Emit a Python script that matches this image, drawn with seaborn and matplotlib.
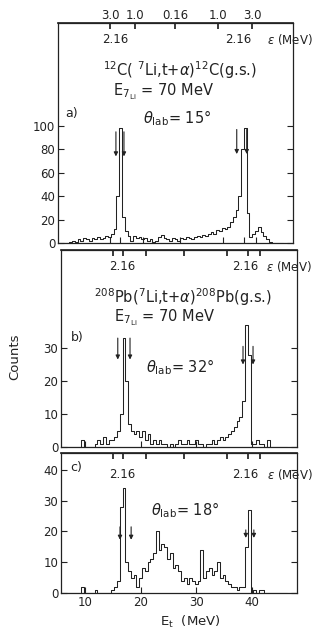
import numpy as np
import pandas as pd
import matplotlib
matplotlib.use('Agg')
import matplotlib.pyplot as plt
import seaborn as sns

sns.set_theme(style='ticks')
plt.rcParams['font.family'] = ['DejaVu Sans']
plt.rcParams['mathtext.fontset'] = 'dejavusans'

# triton energy channels, 0.5 MeV wide, centres 6.0 ... 46.0 MeV
e_first, e_last, e_width = 6.0, 46.0, 0.5

# a) 12C(7Li,t+a)12C(g.s.), theta_lab = 15 deg
counts_a = [0, 0, 0, 0, 1, 2, 1, 3, 2, 4,
            3, 2, 4, 3, 5, 3, 4, 6, 5, 8,
            12, 40, 98, 22, 10, 6, 2, 6, 4, 5,
            3, 4, 2, 3, 1, 2, 5, 7, 4, 3,
            2, 4, 3, 2, 4, 3, 5, 4, 3, 5,
            6, 5, 7, 6, 8, 9, 8, 11, 10, 13,
            12, 14, 18, 22, 28, 40, 80, 98, 26, 5,
            8, 10, 14, 9, 6, 3, 1, 0, 0, 0,
            0]
# b) 208Pb(7Li,t+a)208Pb(g.s.), theta_lab = 32 deg
counts_b = [0, 0, 0, 0, 0, 0, 0, 2, 0, 0,
            0, 0, 1, 2, 1, 3, 1, 2, 2, 3,
            5, 10, 33, 20, 7, 5, 4, 5, 3, 5,
            2, 4, 1, 2, 1, 2, 1, 1, 0, 1,
            0, 1, 2, 1, 1, 2, 1, 1, 2, 1,
            1, 0, 1, 1, 2, 1, 2, 3, 2, 3,
            4, 5, 6, 8, 9, 14, 37, 28, 1, 1,
            2, 1, 1, 0, 2, 0, 0, 0, 0, 0,
            0]
# c) 208Pb target, theta_lab = 18 deg
counts_c = [0, 0, 0, 0, 0, 0, 0, 2, 0, 0,
            0, 0, 1, 0, 0, 0, 0, 0, 1, 2,
            4, 28, 34, 10, 7, 5, 6, 2, 5, 8,
            7, 10, 11, 13, 20, 14, 16, 15, 11, 13,
            8, 9, 7, 4, 5, 3, 5, 4, 3, 4,
            14, 5, 7, 8, 6, 7, 10, 5, 6, 4,
            3, 2, 2, 1, 2, 2, 15, 27, 0, 1,
            0, 1, 1, 0, 0, 0, 0, 0, 0, 0,
            0]

# relative t-alpha energy scale (top axis)
eps_pos_a = [15.1, 19.6, 26.8, 34.6, 40.7]
eps_labels_a = ['3.0', '1.0', '0.16', '1.0', '3.0']
eps_pos_bc = [15.0, 16.8, 21.0, 27.8, 35.5, 39.3, 41.4]

# arrows marking the 2.16 MeV window: (E_t, count at tail, count at head)
arrows_a = [(16.15, 95, 74), (17.6, 95, 74), (37.95, 97, 76), (39.75, 97, 76)]
arrows_b = [(15.9, 33, 26.5), (18.1, 33, 26.5), (38.4, 30.5, 25), (40.2, 30.5, 25)]
arrows_c = [(16.3, 21.5, 17.3), (18.3, 21.5, 17.3), (38.9, 20.5, 17.9), (40.35, 20.5, 17.9)]

e_centers = np.arange(e_first, e_last + e_width / 2, e_width)
edges = list(np.append(e_centers - e_width / 2, e_centers[-1] + e_width / 2))
df = pd.DataFrame({'E': e_centers, 'a': counts_a, 'b': counts_b, 'c': counts_c})

fig = plt.figure(figsize=(3.2, 6.3), dpi=100)
ax_a = fig.add_axes([58 / 320, 1 - 243 / 630, 235 / 320, 220 / 630])
ax_b = fig.add_axes([61 / 320, 1 - 447 / 630, 236 / 320, 197 / 630])
ax_c = fig.add_axes([61 / 320, 1 - 593 / 630, 236 / 320, 140 / 630])

panels = [(ax_a, 'a', 188, [0, 20, 40, 60, 80, 100], arrows_a),
          (ax_b, 'b', 59.7, [0, 10, 20, 30], arrows_b),
          (ax_c, 'c', 45.5, [0, 10, 20, 30, 40], arrows_c)]

for ax, col, ytop, yt, arr in panels:
    sns.histplot(data=df, x='E', weights=col, bins=edges, element='step',
                 fill=False, color='#222222', linewidth=0.75, ax=ax)
    ax.set_xlim(5.7, 48.1)
    ax.set_ylim(0, ytop)
    ax.set_yticks(yt)
    ax.set_xlabel('')
    ax.set_ylabel('')
    ax.tick_params(direction='in', length=4, width=0.8, labelsize=8.5,
                   right=True, pad=2, colors='#222222')
    for s in ax.spines.values():
        s.set_linewidth(0.9)
        s.set_color('#222222')
    for x, y0, y1 in arr:
        ax.annotate('', xy=(x, y1), xytext=(x, y0),
                    arrowprops=dict(arrowstyle='-|>', color='#222222', lw=0.8,
                                    mutation_scale=6, shrinkA=0, shrinkB=0))

ax_a.set_xticks(eps_pos_bc)
ax_a.tick_params(labelbottom=False)
ax_b.set_xticks([10, 20, 30, 40])
ax_b.tick_params(labelbottom=False)
ax_c.set_xticks([10, 20, 30, 40])

top_a = ax_a.secondary_xaxis('top')
top_a.set_xticks(eps_pos_a, eps_labels_a)
top_a.tick_params(direction='in', length=4, labelsize=8.5, pad=1, colors='#222222')
for ax in (ax_b, ax_c):
    t = ax.secondary_xaxis('top')
    t.set_xticks(eps_pos_bc)
    t.tick_params(direction='in', length=4, labeltop=False, colors='#222222')

fs_big = 10.5


def put(ax, x, y, s, size=fs_big, ha='center'):
    ax.text(x, y, s, transform=ax.transAxes, ha=ha, va='center',
            fontsize=size, color='#222222')


# panel a
put(ax_a, 0.243, 0.923, '2.16', 8.5)
put(ax_a, 0.766, 0.923, '2.16', 8.5)
put(ax_a, 0.889, 0.923, r'$\epsilon$ (MeV)', 8.5, 'left')
put(ax_a, 0.52, 0.786, r'$^{12}$C( $^{7}$Li,t+$\alpha$)$^{12}$C(g.s.)', fs_big)
put(ax_a, 0.45, 0.686, r'E$_{7_{\rm Li}}$ = 70 MeV', fs_big)
put(ax_a, 0.506, 0.568, r'$\theta_{\rm lab}$= 15°', fs_big)
put(ax_a, 0.03, 0.59, 'a)', 9, 'left')

# panel b
put(ax_b, 0.258, 0.914, '2.16', 8.5)
put(ax_b, 0.78, 0.914, '2.16', 8.5)
put(ax_b, 0.87, 0.914, r'$\epsilon$ (MeV)', 8.5, 'left')
put(ax_b, 0.517, 0.761, r'$^{208}$Pb($^{7}$Li,t+$\alpha$)$^{208}$Pb(g.s.)', fs_big)
put(ax_b, 0.44, 0.655, r'E$_{7_{\rm Li}}$ = 70 MeV', fs_big)
put(ax_b, 0.504, 0.406, r'$\theta_{\rm lab}$= 32°', fs_big)
put(ax_b, 0.04, 0.558, 'b)', 9, 'left')

# panel c
put(ax_c, 0.258, 0.843, '2.16', 8.5)
put(ax_c, 0.78, 0.843, '2.16', 8.5)
put(ax_c, 0.873, 0.843, r'$\epsilon$ (MeV)', 8.5, 'left')
put(ax_c, 0.525, 0.593, r'$\theta_{\rm lab}$= 18°', fs_big)
put(ax_c, 0.04, 0.9, 'c)', 9, 'left')

fig.text(0.047, 0.433, 'Counts', rotation=90, ha='center', va='center',
         fontsize=9.5, color='#222222')
fig.text(0.594, 0.0127, r'E$_{\rm t}$  (MeV)', ha='center', va='center',
         fontsize=9.5, color='#222222')

fig.savefig('out.png', dpi=100, facecolor='white')
